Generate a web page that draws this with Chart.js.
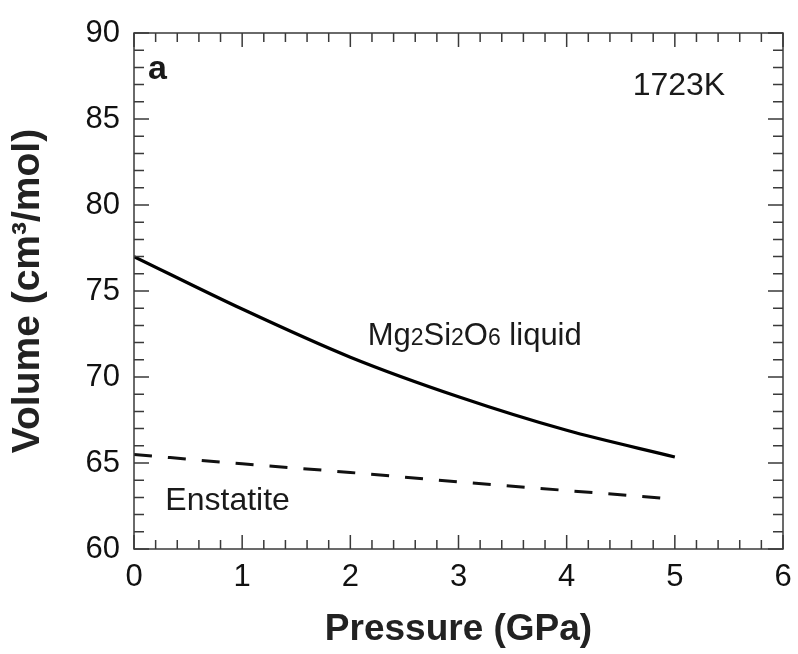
<!DOCTYPE html>
<html>
<head>
<meta charset="utf-8">
<script src="https://cdn.jsdelivr.net/npm/chart.js@4"></script>
<style>
  body { margin: 0; background: #fff; }
  #wrap { width: 798px; height: 654px; }
</style>
</head>
<body>
<div id="wrap"><canvas id="myChart" width="798" height="654"></canvas></div>
<script>
// du lieu doc tu hinh
var pressure = [0, 1, 2, 3, 4, 5];
var liquidVol = [77.0, 73.95, 71.15, 68.85, 66.9, 65.35];
var enstatiteVol = [65.5, 64.95, 64.45, 63.9, 63.4, 62.9];

var xTicks = [0, 1, 2, 3, 4, 5, 6];
var yTicks = [60, 65, 70, 75, 80, 85, 90];

function pts(ys) {
  return pressure.map(function (p, i) { return { x: p, y: ys[i] }; });
}

// khung, vach chia ben trong va chu thich
var khung = {
  id: 'khung',
  afterDraw: function (chart) {
    var ctx = chart.ctx;
    var a = chart.chartArea;
    var sx = chart.scales.x, sy = chart.scales.y;
    ctx.save();
    ctx.strokeStyle = '#3a3a3a';
    ctx.lineWidth = 1.5;
    ctx.strokeRect(a.left, a.top, a.right - a.left, a.bottom - a.top);

    // vach x
    for (var k = 0; k <= 30; k++) {
      var v = k * 0.2;
      var px = sx.getPixelForValue(v);
      var len = (k % 5 === 0) ? 14 : 9;
      ctx.beginPath();
      ctx.moveTo(px, a.bottom); ctx.lineTo(px, a.bottom - len);
      ctx.moveTo(px, a.top); ctx.lineTo(px, a.top + len);
      ctx.stroke();
    }
    // vach y
    for (var j = 60; j <= 90; j++) {
      var py = sy.getPixelForValue(j);
      var l2 = (j % 5 === 0) ? 15 : 10;
      ctx.beginPath();
      ctx.moveTo(a.left, py); ctx.lineTo(a.left + l2, py);
      ctx.moveTo(a.right, py); ctx.lineTo(a.right - l2, py);
      ctx.stroke();
    }

    ctx.fillStyle = '#1a1a1a';
    ctx.textBaseline = 'alphabetic';
    ctx.textAlign = 'left';
    ctx.font = 'bold 34px "Liberation Sans", Arial, sans-serif';
    ctx.fillText('a', sx.getPixelForValue(0.13), sy.getPixelForValue(87.3));

    ctx.font = '32px "Liberation Sans", Arial, sans-serif';
    ctx.fillText('1723K', sx.getPixelForValue(4.61), sy.getPixelForValue(86.4));
    ctx.fillText('Enstatite', sx.getPixelForValue(0.29), sy.getPixelForValue(62.27));

    // Mg2Si2O6 liquid voi chi so duoi
    var x = sx.getPixelForValue(2.16), y = sy.getPixelForValue(71.86);
    var parts = [['Mg', 0], ['2', 1], ['Si', 0], ['2', 1], ['O', 0], ['6', 1], [' liquid', 0]];
    parts.forEach(function (p) {
      ctx.font = p[1] ? '23px "Liberation Sans", Arial, sans-serif' : '31px "Liberation Sans", Arial, sans-serif';
      ctx.fillText(p[0], x, y);
      x += ctx.measureText(p[0]).width;
    });
    ctx.restore();
  }
};

const bieuDo = new Chart("myChart", {
  type: "line",
  data: {
    datasets: [
      {
        label: "Mg2Si2O6 liquid",
        data: pts(liquidVol),
        borderColor: "#000",
        borderWidth: 3.2,
        pointRadius: 0,
        cubicInterpolationMode: 'monotone',
        fill: false
      },
      {
        label: "Enstatite",
        data: pts(enstatiteVol),
        borderColor: "#111",
        borderWidth: 3,
        borderDash: [18, 16],
        pointRadius: 0,
        cubicInterpolationMode: 'monotone',
        fill: false
      }
    ]
  },
  options: {
    responsive: false,
    animation: false,
    layout: { padding: { left: 0, right: 15, top: 33, bottom: 0 } },
    plugins: { legend: { display: false }, tooltip: { enabled: false } },
    scales: {
      x: {
        type: 'linear',
        min: 0, max: 6,
        afterBuildTicks: function (s) { s.ticks = xTicks.map(function (v) { return { value: v }; }); },
        afterFit: function (s) { s.height = 105; s.paddingLeft = 0; s.paddingRight = 0; },
        grid: { display: false, drawTicks: false },
        border: { display: false },
        ticks: {
          color: '#111',
          padding: 10,
          font: { family: '"Liberation Sans", Arial, sans-serif', size: 31 }
        },
        title: {
          display: true,
          text: 'Pressure (GPa)',
          color: '#222',
          padding: { top: 0, bottom: 2 },
          font: { family: '"Liberation Sans", Arial, sans-serif', size: 37, weight: 'bold' }
        }
      },
      y: {
        type: 'linear',
        min: 60, max: 90,
        afterBuildTicks: function (s) { s.ticks = yTicks.map(function (v) { return { value: v }; }); },
        afterFit: function (s) { s.width = 134; s.paddingTop = 0; s.paddingBottom = 0; },
        grid: { display: false, drawTicks: false },
        border: { display: false },
        ticks: {
          color: '#111',
          padding: 14,
          font: { family: '"Liberation Sans", Arial, sans-serif', size: 31 }
        },
        title: {
          display: true,
          text: 'Volume (cm³/mol)',
          color: '#222',
          padding: { top: 5, bottom: 0 },
          font: { family: '"Liberation Sans", Arial, sans-serif', size: 39, weight: 'bold' }
        }
      }
    }
  },
  plugins: [khung]
});
</script>
</body>
</html>
